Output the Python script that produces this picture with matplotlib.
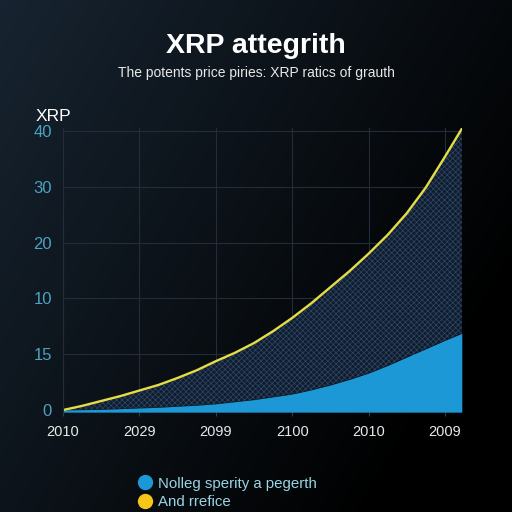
import numpy as np
import matplotlib.pyplot as plt
from matplotlib.lines import Line2D

# data
x_pos = [0, 0.25, 0.5, 0.75, 1, 1.25, 1.5, 1.75, 2, 2.25, 2.5,
         2.75, 3, 3.25, 3.5, 3.75, 4, 4.25, 4.5, 4.75, 5, 5.22]
upper = [0, 0.6, 1.3, 2.0, 2.8, 3.6, 4.6, 5.7, 7.0, 8.2, 9.6,
         11.3, 13.2, 15.3, 17.6, 19.9, 22.4, 25.1, 28.2, 31.9, 36.3, 40.3]
lower = [0, 0.05, 0.1, 0.2, 0.3, 0.4, 0.55, 0.7, 0.9, 1.2, 1.5,
         1.9, 2.3, 2.9, 3.6, 4.4, 5.3, 6.4, 7.6, 8.8, 10.0, 11.0]

x_ticks = [0, 1, 2, 3, 4, 5]
x_labels = ['2010', '2029', '2099', '2100', '2010', '2009']
y_ticks = [0, 8, 16, 24, 32, 40]
y_labels = ['0', '15', '10', '20', '30', '40']

title = 'XRP attegrith'
subtitle = 'The potents price piries: XRP ratics of grauth'
legend_labels = ['Nolleg sperity a pegerth', 'And rrefice']

plt.rcParams['font.family'] = ['Liberation Sans', 'DejaVu Sans']
plt.rcParams['hatch.linewidth'] = 0.5

fig = plt.figure(figsize=(5.12, 5.12), dpi=100)

# background gradient
bg = fig.add_axes([0, 0, 1, 1])
gx, gy = np.meshgrid(np.linspace(0, 1, 200), np.linspace(0, 1, 200))
t = np.clip(0.75 * gx + 0.45 * gy, 0, 1)
c0 = np.array([0.09, 0.14, 0.19])
c1 = np.array([0.0, 0.0, 0.0])
img = c0 * (1 - t[..., None]) + c1 * t[..., None]
bg.imshow(img, aspect='auto', extent=[0, 1, 0, 1])
bg.axis('off')

ax = fig.add_axes([0.123, 0.195, 0.779, 0.555])
ax.set_facecolor('none')

ax.fill_between(x_pos, lower, upper, facecolor='#111d2e', edgecolor='#2d4866',
                hatch='xxxxxx', linewidth=0)
ax.fill_between(x_pos, -0.3, lower, color='#1b98d5', linewidth=0)
ax.plot(x_pos, upper, color='#e6dd45', lw=1.7)

ax.set_xlim(0, 5.22)
ax.set_ylim(-0.3, 40.4)
ax.set_xticks(x_ticks)
ax.set_xticklabels(x_labels, color='#e8e8e8', fontsize=10.5)
ax.set_yticks(y_ticks)
ax.set_yticklabels(y_labels, color='#4aa3c2', fontsize=12)
ax.tick_params(axis='y', length=0, pad=8)
ax.tick_params(axis='x', length=3, color='#333c48', pad=6)
ax.grid(True, color='#232c38', lw=0.8)
ax.set_axisbelow(True)
for s in ['top', 'right', 'bottom']:
    ax.spines[s].set_visible(False)
ax.spines['left'].set_color('#232c38')

fig.text(0.5, 0.91, title, color='white', fontsize=20.5, fontweight='bold',
         ha='center', va='center')
fig.text(0.5, 0.858, subtitle, color='#e8e8e8', fontsize=10,
         ha='center', va='center')
fig.text(0.07, 0.772, 'XRP', color='white', fontsize=12.5, ha='left', va='center')

handles = [Line2D([], [], marker='o', ls='', color='#1b98d5', markersize=10),
           Line2D([], [], marker='o', ls='', color='#f5c518', markersize=10)]
leg = fig.legend(handles, legend_labels, loc='upper left',
                 bbox_to_anchor=(0.25, 0.081), frameon=False, fontsize=10.8,
                 handletextpad=0.1, handlelength=1.5, labelspacing=0.3,
                 borderaxespad=0)
for txt in leg.get_texts():
    txt.set_color('#98d4e4')

fig.savefig('out.png', dpi=100)
